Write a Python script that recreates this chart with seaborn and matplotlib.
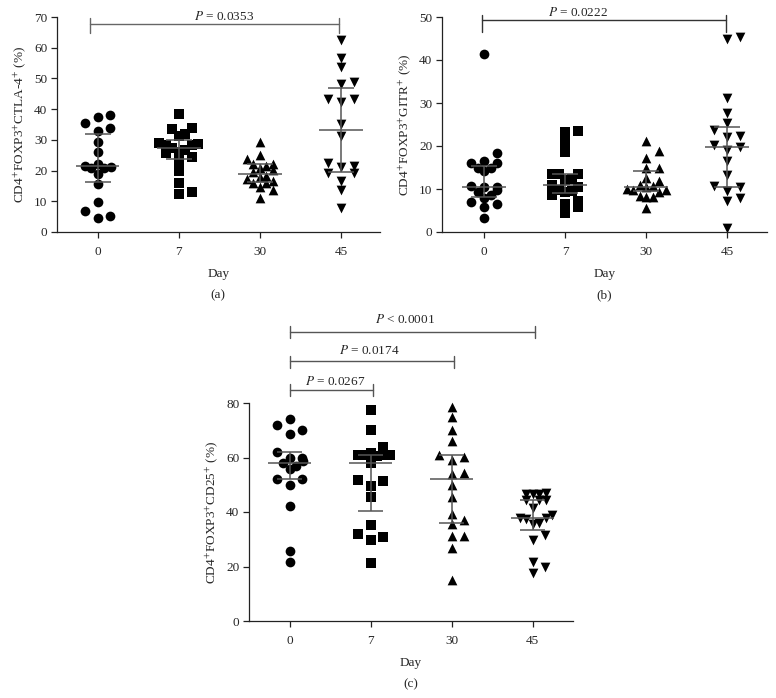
import numpy as np
import pandas as pd
import matplotlib
matplotlib.use("Agg")
import matplotlib.pyplot as plt
import seaborn as sns

# ---------------- data ----------------
days = ["0", "7", "30", "45"]
markers = ["o", "s", "^", "v"]

ctla4_d0 = [38.1, 37.3, 35.6, 34.0, 32.9, 29.4, 26.2, 20.8, 21.3, 21.0, 22.0, 21.6, 19.0, 15.5, 9.8, 7.0, 4.6, 5.1]
ctla4_d7 = [38.4, 33.4, 34.0, 31.8, 31.3, 28.3, 28.6, 28.9, 27.5, 28.3, 26.2, 26.7, 25.6, 24.4, 23.1, 20.0, 15.8, 12.3, 12.9]
ctla4_d30 = [29.2, 25.0, 23.7, 22.2, 22.2, 21.5, 20.8, 20.3, 19.4, 18.3, 17.8, 17.3, 16.5, 16.1, 15.8, 14.7, 13.8, 11.2]
ctla4_d45 = [62.6, 56.8, 53.8, 48.1, 48.7, 43.2, 42.2, 43.2, 35.2, 31.1, 22.6, 21.3, 21.6, 19.1, 19.1, 16.7, 13.7, 7.8]

gitr_d0 = [41.3, 18.3, 16.5, 16.1, 16.1, 14.8, 14.3, 14.8, 10.4, 9.8, 10.7, 10.4, 8.6, 9.4, 7.9, 6.9, 6.5, 5.8, 3.2]
gitr_d7 = [23.2, 23.5, 21.0, 18.5, 13.5, 13.5, 13.5, 12.1, 12.3, 11.0, 10.5, 9.4, 9.6, 9.8, 8.6, 6.6, 7.3, 5.8, 4.4]
gitr_d30 = [21.2, 18.9, 17.2, 14.8, 14.8, 12.5, 11.8, 10.4, 9.7, 10.0, 11.0, 9.8, 9.4, 10.7, 8.1, 8.4, 8.1, 5.6]
gitr_d45 = [45.0, 45.3, 31.1, 27.7, 25.3, 23.7, 22.3, 22.2, 19.1, 19.8, 20.2, 16.4, 13.3, 10.4, 10.7, 9.6, 7.9, 7.1, 0.9]

cd25_d0 = [74.3, 70.2, 71.8, 68.7, 62.0, 59.9, 58.7, 59.9, 56.8, 55.9, 58.0, 52.2, 52.2, 49.8, 42.2, 25.6, 21.7]
cd25_d7 = [77.3, 70.0, 63.9, 61.8, 60.8, 61.0, 61.0, 60.5, 60.8, 58.0, 51.4, 51.6, 49.4, 45.5, 35.1, 30.8, 32.0, 29.8, 21.3]
cd25_d30 = [78.5, 74.9, 70.0, 66.1, 60.2, 59.0, 61.0, 54.1, 54.3, 50.0, 45.5, 39.4, 35.7, 36.9, 31.1, 31.2, 26.9, 14.9]
cd25_d45 = [44.5, 46.5, 46.7, 46.5, 47.0, 44.3, 44.3, 41.6, 38.8, 37.6, 37.9, 37.9, 36.0, 35.5, 31.4, 29.8, 21.7, 19.8, 17.6]

ylabels = [r"CD4$^{+}$FOXP3$^{+}$CTLA-4$^{+}$ (%)",
           r"CD4$^{+}$FOXP3$^{+}$GITR$^{+}$ (%)",
           r"CD4$^{+}$FOXP3$^{+}$CD25$^{+}$ (%)"]

# ---------------- style ----------------
sns.set_style("ticks")
plt.rcParams["font.family"] = ["Liberation Serif", "DejaVu Serif"]
plt.rcParams["mathtext.fontset"] = "stix"

GREY = "#555555"
W, H = 776, 698

fig = plt.figure(figsize=(W / 100, H / 100), dpi=100)
boxA = [57, 232, 380, 17]    # left, bottom, right, top (pixels from top-left)
boxB = [442, 232, 767, 17]
boxC = [249, 621, 573, 403]


def make_ax(b):
    return fig.add_axes([b[0] / W, 1 - b[1] / H, (b[2] - b[0]) / W, (b[1] - b[3]) / H])


axA, axB, axC = make_ax(boxA), make_ax(boxB), make_ax(boxC)


def row_offsets(vals, px_x, px_y, row_h=9.0, wide=12.8, narrow=6.5):
    """Prism-like scatter: points binned into rows, spread symmetrically."""
    order = np.argsort(vals)
    offs = np.zeros(len(vals))
    rows, cur, start = [], [], None
    for i in order:
        y = vals[i] * px_y
        if cur and y - start > row_h:
            rows.append(cur)
            cur = []
        if not cur:
            start = y
        cur.append(i)
    if cur:
        rows.append(cur)
    seq = [0]
    for k in range(1, 10):
        seq += [k, -k]
    for r in rows:
        step = wide if len(r) <= 3 else narrow
        for j, i in enumerate(r):
            offs[i] = seq[j] * step / px_x
    return offs


def panel(ax, box, groups, ylim, ystep, ylabel, xlim, size):
    px_x = (box[2] - box[0]) / (xlim[1] - xlim[0])
    px_y = (box[1] - box[3]) / (ylim[1] - ylim[0])
    for i, (vals, m) in enumerate(zip(groups, markers)):
        vals = np.asarray(vals, dtype=float)
        xs = i + row_offsets(vals, px_x, px_y)
        df = pd.DataFrame({"x": xs, "value": vals})
        sns.scatterplot(data=df, x="x", y="value", marker=m, color="black",
                        s=size ** 2, linewidth=0, ax=ax, zorder=2, clip_on=False)
        med = np.median(vals)
        q1, q3 = np.percentile(vals, [25, 75])
        ax.hlines(med, i - 0.27, i + 0.27, color=GREY, lw=1.1, zorder=4)
        ax.hlines([q1, q3], i - 0.16, i + 0.16, color=GREY, lw=1.1, zorder=4)
        ax.vlines(i, q1, q3, color=GREY, lw=1.1, zorder=4)
    ax.set_ylim(*ylim)
    ax.set_yticks(np.arange(ylim[0], ylim[1] + 0.1, ystep))
    ax.set_xlim(*xlim)
    ax.set_xticks(range(len(days)))
    ax.set_xticklabels(days)
    ax.set_xlabel("Day", fontsize=9.5, labelpad=7)
    ax.set_ylabel(ylabel, fontsize=9.5, labelpad=4)
    sns.despine(ax=ax)
    for s in ["left", "bottom"]:
        ax.spines[s].set_linewidth(0.9)
        ax.spines[s].set_color("#222222")
    ax.tick_params(axis="both", labelsize=9.5, length=4, width=0.9, color="#222222", pad=3)
    ax.tick_params(axis="x", pad=6)


def bracket(ax, x0, x1, y, up, down, text, tx, ty, color=GREY):
    ax.plot([x0, x1], [y, y], color=color, lw=1.0, clip_on=False)
    for xx in (x0, x1):
        ax.plot([xx, xx], [y + up, y - down], color=color, lw=1.0, clip_on=False)
    ax.text(tx, ty, text, ha="center", va="center", fontsize=9.5, clip_on=False)


panel(axA, boxA, [ctla4_d0, ctla4_d7, ctla4_d30, ctla4_d45], (0, 70), 10, ylabels[0], (-0.5, 3.48), 7)
panel(axB, boxB, [gitr_d0, gitr_d7, gitr_d30, gitr_d45], (0, 50), 10, ylabels[1], (-0.52, 3.49), 7)
panel(axC, boxC, [cd25_d0, cd25_d7, cd25_d30, cd25_d45], (0, 80), 20, ylabels[2], (-0.5, 3.5), 7)

bracket(axA, -0.09, 2.98, 67.8, 1.8, 2.9, r"$P$ = 0.0353", 1.56, 70.3, color="#666666")
bracket(axB, -0.03, 2.98, 49.2, 1.2, 2.6, r"$P$ = 0.0222", 1.16, 51.1, color="#333333")
bracket(axC, 0, 1.03, 84.8, 2.0, 2.4, r"$P$ = 0.0267", 0.56, 87.9)
bracket(axC, 0, 2.03, 95.4, 2.0, 2.4, r"$P$ = 0.0174", 0.98, 99.2)
bracket(axC, 0, 3.03, 106.1, 2.0, 2.4, r"$P$ < 0.0001", 1.42, 110.8)

fig.text(218 / W, 1 - 295 / H, "(a)", ha="center", va="center", fontsize=9.5)
fig.text(604 / W, 1 - 295 / H, "(b)", ha="center", va="center", fontsize=9.5)
fig.text(411 / W, 1 - 684 / H, "(c)", ha="center", va="center", fontsize=9.5)

fig.savefig("out.png", dpi=100)
